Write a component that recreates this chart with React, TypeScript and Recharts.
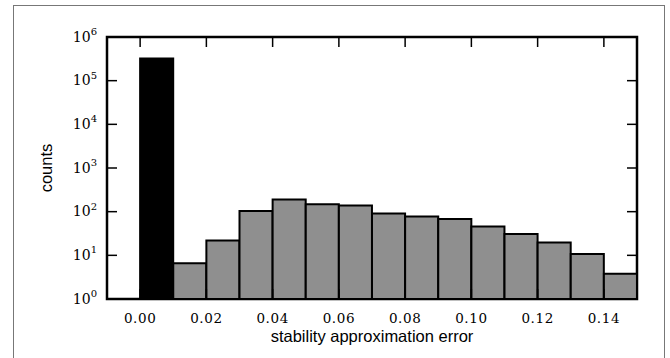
import React from 'react';
import { BarChart, Bar, XAxis, YAxis, Cell, ReferenceArea } from 'recharts';

// histogram bins (width 0.01)
const BIN_CENTERS = [0.005, 0.015, 0.025, 0.035, 0.045, 0.055, 0.065, 0.075, 0.085, 0.095, 0.105, 0.115, 0.125, 0.135, 0.145];
const COUNTS = [320000, 6.6, 22, 104, 190, 148, 138, 91, 78, 68, 45.5, 31, 19.7, 10.7, 3.8];
const BAR_COLORS = ['#000000', '#8f8f8f', '#8f8f8f', '#8f8f8f', '#8f8f8f', '#8f8f8f', '#8f8f8f', '#8f8f8f', '#8f8f8f', '#8f8f8f', '#8f8f8f', '#8f8f8f', '#8f8f8f', '#8f8f8f', '#8f8f8f'];

const X_TICKS = [0, 0.02, 0.04, 0.06, 0.08, 0.1, 0.12, 0.14];
const Y_TICKS = [1, 10, 100, 1000, 10000, 100000, 1000000];
const X_DOMAIN = [-0.01, 0.15];
const Y_DOMAIN = [1, 1000000];

const data = BIN_CENTERS.map((x, i) => ({ x, count: COUNTS[i] }));

const W = 670;
const H = 358;
const MARGIN = { top: 37, right: 33, bottom: 0, left: 0 };
const Y_AXIS_W = 107;
const X_AXIS_H = 59;
const PLOT_W = W - Y_AXIS_W - MARGIN.right;
const PLOT_H = H - MARGIN.top - X_AXIS_H;
const TICK_LEN = 10;
const SERIF = '"DejaVu Serif", serif';
const SANS = '"Liberation Sans", Arial, sans-serif';

// left labels plus inward ticks on the left and right spines
const LeftTick = (props: any) => {
  const { x, y, payload } = props;
  const exp = Math.round(Math.log10(payload.value));
  const left = x + 10;
  const right = left + PLOT_W;
  return (
    <g>
      <line x1={left} x2={left + TICK_LEN} y1={y} y2={y} stroke="#000" strokeWidth={1.5} />
      <line x1={right - TICK_LEN} x2={right} y1={y} y2={y} stroke="#000" strokeWidth={1.5} />
      <text x={x} y={y} dy={4.5} textAnchor="end" fontFamily={SERIF} fontSize={14} fill="#000">
        10<tspan dy={-6.5} fontSize={10}>{exp}</tspan>
      </text>
    </g>
  );
};

// bottom labels plus inward ticks on the bottom and top spines
const BottomTick = (props: any) => {
  const { x, y, payload } = props;
  const bottom = y - 14;
  const top = bottom - PLOT_H;
  return (
    <g>
      <line x1={x} x2={x} y1={bottom} y2={bottom - TICK_LEN} stroke="#000" strokeWidth={1.5} />
      <line x1={x} x2={x} y1={top} y2={top + TICK_LEN} stroke="#000" strokeWidth={1.5} />
      <text x={x} y={y} dy={10} textAnchor="middle" fontFamily={SERIF} fontSize={13.5} fill="#000" letterSpacing={0.6}>
        {payload.value.toFixed(2)}
      </text>
    </g>
  );
};

const CountsLabel = (props: any) => {
  const vb = props.viewBox;
  const cx = 46;
  const cy = vb.y + vb.height / 2;
  return (
    <text x={cx} y={cy} dy={6} textAnchor="middle" transform={`rotate(-90 ${cx} ${cy})`} fontFamily={SANS} fontSize={16.5} fill="#000">
      counts
    </text>
  );
};

export default function App() {
  return (
    <div style={{ position: 'absolute', left: 0, top: 0, width: W, height: H, overflow: 'hidden', background: '#fff' }}>
      <div style={{ position: 'absolute', left: 13, top: 5, width: 652, height: 400, border: '1.5px solid #777', boxSizing: 'border-box' }} />
      <div style={{ position: 'absolute', left: 0, top: 0 }}>
        <BarChart width={W} height={H} data={data} margin={MARGIN} barCategoryGap={0} barGap={0}>
          <XAxis
            xAxisId="main"
            dataKey="x"
            type="number"
            domain={X_DOMAIN}
            ticks={X_TICKS}
            allowDataOverflow
            height={X_AXIS_H}
            tickSize={0}
            tickMargin={14}
            tickLine={false}
            tick={<BottomTick />}
            axisLine={false}
            label={{ value: 'stability approximation error', position: 'insideBottom', offset: 16, fill: '#000', fontFamily: SANS, fontSize: 16.5 }}
          />
          <YAxis
            yAxisId="main"
            scale="log"
            type="number"
            domain={Y_DOMAIN}
            ticks={Y_TICKS}
            allowDataOverflow
            width={Y_AXIS_W}
            tickSize={0}
            tickMargin={10}
            tickLine={false}
            tick={<LeftTick />}
            axisLine={false}
            label={<CountsLabel />}
          />
          <Bar
            dataKey="count"
            xAxisId="main"
            yAxisId="main"
            barSize={PLOT_W / 16 - 0.05}
            stroke="#000"
            strokeWidth={2}
            isAnimationActive={false}
          >
            {data.map((d, i) => (
              <Cell key={d.x} fill={BAR_COLORS[i]} />
            ))}
          </Bar>
          <ReferenceArea
            xAxisId="main"
            yAxisId="main"
            x1={X_DOMAIN[0]}
            x2={X_DOMAIN[1]}
            y1={Y_DOMAIN[0]}
            y2={Y_DOMAIN[1]}
            fill="none"
            fillOpacity={0}
            stroke="#000"
            strokeWidth={2.5}
            ifOverflow="visible"
          />
        </BarChart>
      </div>
    </div>
  );
}
